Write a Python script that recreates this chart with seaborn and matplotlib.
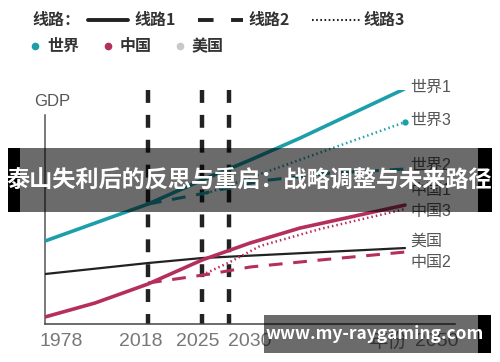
import numpy as np
import pandas as pd
import seaborn as sns
import matplotlib.pyplot as plt
from matplotlib.lines import Line2D
from matplotlib.patches import Rectangle

sns.set_style('white')
plt.rcParams['font.family'] = ['Noto Sans CJK SC', 'DejaVu Sans']
plt.rcParams['axes.unicode_minus'] = False

# 颜色
TEAL = '#1c9fa9'
CRIMSON = '#b42f5c'
BLACK = '#222222'
GRAY_TXT = '#555555'
LATIN = ['Liberation Sans', 'Noto Sans CJK SC']

# 横轴: 示意时间轴位置 (不按比例), 纵轴: GDP 示意值
world1_x = [0, 103, 157, 205, 255, 359]
world1_y = [83, 120, 144, 164, 186, 235]
world2_x = [103, 155, 215, 285, 360]
world2_y = [120, 130, 143, 151, 155]
world3_x = [157, 218, 360]
world3_y = [129, 151, 202]

china1_x = [0, 50, 103, 157, 205, 255, 360]
china1_y = [7, 21, 40, 64, 81, 96, 119]
china2_x = [103, 165, 205, 275, 360]
china2_y = [41, 50, 57, 64, 72]
china3_x = [157, 185, 215, 275, 360]
china3_y = [49, 62, 78, 95, 115]

usa_x = [0, 103, 157, 360]
usa_y = [50, 61, 66, 76]

# 关键年份 (竖线位置)
mark_years = ['2018', '2025', '2030']
mark_pos = [103, 157, 184]

tick_labels = ['1978', '2018', '2025', '2030', '年份', '2050']
tick_pos = [16, 96, 153, 205, 343, 392]

end_labels = ['世界1', '世界3', '世界2', '中国1', '中国3', '美国', '中国2']
end_label_y = [237, 204, 159, 134, 113, 83, 62]

fig = plt.figure(figsize=(5, 3.62), dpi=100)
ax = fig.add_axes([0.09, 0.105, 0.82, 0.646])
ax.set_xlim(0, 410)
ax.set_ylim(0, 234)

# 竖向虚线
for p in mark_pos:
    ax.plot([p, p], [234, 0], color=BLACK, lw=3.2, linestyle=(0, (2.9, 2.7)),
            solid_capstyle='butt', zorder=2)

solid = dict(solid_capstyle='round')
sns.lineplot(x=usa_x, y=usa_y, ax=ax, color=BLACK, lw=1.6, sort=False, zorder=3)
sns.lineplot(x=world1_x, y=world1_y, ax=ax, color=TEAL, lw=2.6, sort=False, zorder=4, **solid)
sns.lineplot(x=world2_x, y=world2_y, ax=ax, color=TEAL, lw=2.2, sort=False, zorder=4,
             linestyle=(0, (4.5, 3.5)))
sns.lineplot(x=world3_x, y=world3_y, ax=ax, color=TEAL, lw=1.8, sort=False, zorder=4,
             linestyle=(0, (0.6, 1.2)))
ax.plot(world3_x[-1], world3_y[-1], 'o', color=TEAL, ms=3.5, zorder=4)
sns.lineplot(x=china1_x, y=china1_y, ax=ax, color=CRIMSON, lw=2.6, sort=False, zorder=5, **solid)
sns.lineplot(x=china2_x, y=china2_y, ax=ax, color=CRIMSON, lw=2.2, sort=False, zorder=5,
             linestyle=(0, (4.5, 3.5)))
sns.lineplot(x=china3_x, y=china3_y, ax=ax, color=CRIMSON, lw=1.8, sort=False, zorder=5,
             linestyle=(0, (0.6, 1.2)))

sns.despine(ax=ax)
ax.spines['left'].set_bounds(0, 209)
ax.spines['left'].set_color('#555555')
ax.spines['bottom'].set_color('#444444')
ax.spines['left'].set_linewidth(1.1)
ax.spines['bottom'].set_linewidth(1.1)
ax.set_xticks([])
ax.set_yticks([])

for lab, p in zip(tick_labels, tick_pos):
    ax.text(p, -18, lab, ha='center', va='center', fontsize=14, color='#777777',
            family=LATIN, clip_on=False)

ax.text(7, 223, 'GDP', ha='center', va='center', fontsize=12, color=GRAY_TXT,
        family=LATIN, clip_on=False)

for lab, yy in zip(end_labels, end_label_y):
    ax.text(365, yy, lab, ha='left', va='center', fontsize=11.5, color=GRAY_TXT,
            family=LATIN, clip_on=False)

# 顶部图例 + 水印层 (像素坐标)
top = fig.add_axes([0, 0, 1, 1], zorder=10)
top.set_xlim(0, 500)
top.set_ylim(362, 0)
top.axis('off')
top.patch.set_alpha(0)

lg = dict(fontsize=11.5, color='#333333', fontweight='bold', va='center')
top.text(32, 20, '线路：', ha='left', **lg)
top.add_line(Line2D([88, 128], [20, 20], color=BLACK, lw=2.8))
top.text(134, 20, '线路1', ha='left', **lg)
top.add_line(Line2D([198, 243], [20, 20], color=BLACK, lw=2.8, linestyle=(0, (4, 4.5))))
top.text(248, 20, '线路2', ha='left', **lg)
top.add_line(Line2D([312, 360], [20, 20], color=BLACK, lw=1.5, linestyle=(0, (0.8, 1.2))))
top.text(363, 20, '线路3', ha='left', **lg)

for cx, col, name in [(35, TEAL, '世界'), (108, CRIMSON, '中国'), (180, '#c8c8c8', '美国')]:
    top.plot(cx, 46, 'o', color=col, ms=4.5)
    top.text(cx + 12, 46, name, ha='left', **lg)

# 标题横幅
top.add_patch(Rectangle((8, 148), 484, 64, facecolor='black', alpha=0.58, lw=0))
top.add_patch(Rectangle((8, 148), 12, 64, facecolor='black', lw=0))
top.add_patch(Rectangle((478, 148), 14, 64, facecolor='black', lw=0))
top.text(249, 181, '泰山失利后的反思与重启：战略调整与未来路径', ha='center', va='center',
         fontsize=16.7, color='white', fontweight='bold')

# 网址水印
top.add_patch(Rectangle((264, 315), 214, 38, facecolor='black', alpha=0.58, lw=0))
top.add_patch(Rectangle((478, 315), 13, 38, facecolor='black', lw=0))
top.text(375, 334, 'www.my-raygaming.com', ha='center', va='center',
         fontsize=12.5, color='white', fontweight='bold')

fig.savefig('out.png', dpi=100, facecolor='white')
